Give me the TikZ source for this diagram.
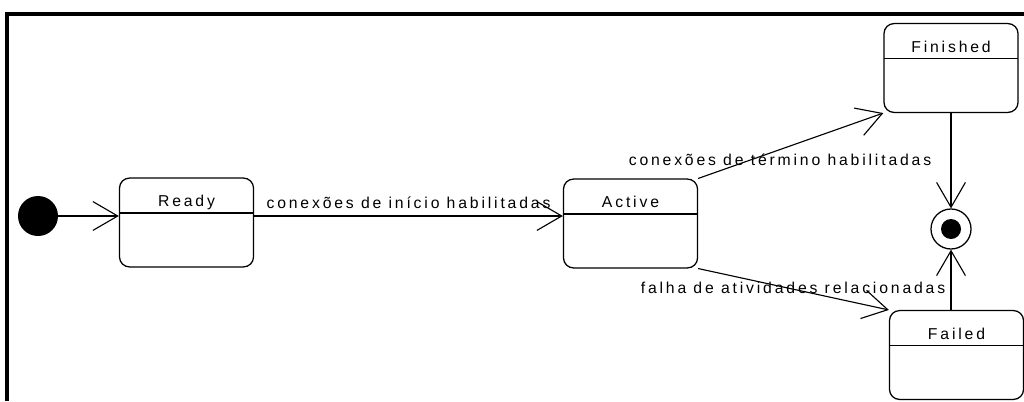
\documentclass[tikz,border=0pt]{standalone}
\usepackage{fontspec}
\setmainfont{Liberation Sans}[LetterSpace=18]
\usetikzlibrary{arrows.meta}

\begin{document}
\begin{tikzpicture}[x=0.025cm, y=-0.025cm, font=\fontsize{11.2}{13}\selectfont,
  >={Straight Barb[length=0.62cm, width=0.72cm]},
  state/.style={draw, line width=0.9pt, rounded corners=0.25cm, inner sep=0pt,
    minimum width=3.35cm, text height=0.72cm, text depth=1.5cm,
    path picture={\draw[line width=0.9pt]
      ([yshift=-0.875cm]path picture bounding box.north west) --
      ([yshift=-0.875cm]path picture bounding box.north east);}},
  initial/.style={circle, fill, inner sep=0pt, minimum size=1cm},
  final/.style={circle, draw, line width=0.9pt, inner sep=0pt, minimum size=1cm,
    path picture={\fill (path picture bounding box.center) circle[radius=0.25cm];}},
  trans/.style={->, line width=0.8pt},
]
  \useasboundingbox (0,0) rectangle (1024,401);
  % frame
  \draw[line width=2.2pt] (7,401) -- (7,14) -- (1024,14);
  % states
  \node[initial] (init) at (38,216) {};
  \node[state] (ready) at (186.5,222.5) {Ready};
  \node[state] (active) at (630.5,223.5) {Active};
  \node[state] (finished) at (951,68) {Finished};
  \node[state] (failed) at (956.5,355) {Failed};
  \node[final] (end) at (951,229) {};
  % transitions
  \draw[trans] (init.east) -- (init.east -| ready.west);
  \draw[trans] (ready.east |- init) --
    node[above, inner sep=5pt] (lblStart) {conexões de início habilitadas} (active.west |- init);
  \draw[trans] (active.north east) -- (finished.south west);
  \node (lblEnd) at (780,160) {conexões de término habilitadas};
  \draw[trans] (active.south east) -- (failed.north west);
  \node (lblFail) at (793,288) {falha de atividades relacionadas};
  \draw[trans] (finished.south -| end) -- (end.north);
  \draw[trans] (failed.north -| end) -- (end.south);
\end{tikzpicture}
\end{document}
